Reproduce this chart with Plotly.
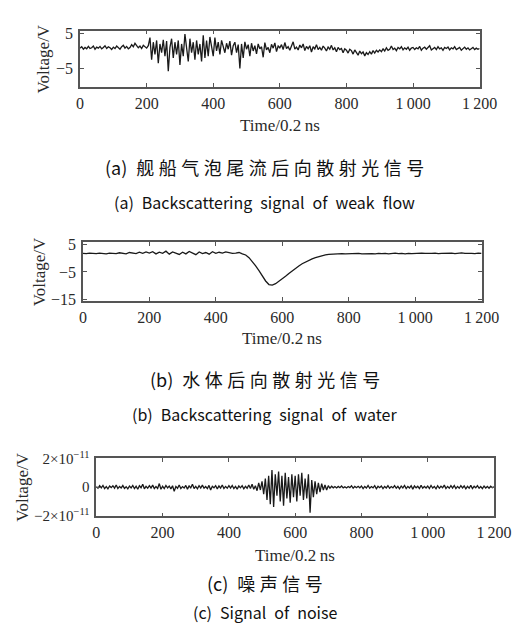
import plotly.graph_objects as go

W, H = 527, 638

# ---------------- data ----------------
# (a) backscattering signal of weak flow, x step 5 (Time/0.2 ns), voltage in V
time_a = list(range(0, 1201, 5))
volt_a = [
    0.8, 1.2, 0.5, 1.0, 0.6, 1.3, 0.7, 0.9, 1.4, 0.5, 1.1, 0.8, 1.3, 0.6, 1.0, 1.5, 0.7, 1.2, 0.9, 0.4,
    1.1, 0.7, 1.4, 0.9, 0.5, 1.2, 1.6, 0.8, 1.3, 0.6, 1.0, 1.8, 1.2, 2.2, 1.5, 0.9, 1.4, 0.7, 1.6, 1.1,
    0.8, 1.5, 3.8, -2.5, 2.5, -1.0, 3.0, -3.5, 2.0, -0.5, 3.2, -1.5, 2.8, -5.8, 1.0, 3.5, -2.0, 2.5, -1.0, 3.0,
    -4.0, 2.0, -1.5, 4.8, 0.5, -3.0, 3.5, -0.5, 2.5, -2.5, 3.0, -1.0, 2.0, -3.0, 4.5, -2.0, 3.0, -1.5, 4.0, 1.0,
    -1.5, 3.8, 0.0, 2.5, -1.0, 3.0, 1.0, -0.5, 2.2, 0.5, 2.8, -1.2, 1.5, 2.5, -0.5, 1.8, -5.0, 2.0, -2.0, 2.6,
    0.5, 1.8, -1.5, 2.2, 0.0, 1.5, -0.8, 2.0, 0.6, 1.2, -1.8, 2.4, 0.3, 1.0, -0.5, 1.9, 0.8, 2.3, -0.2, 1.4,
    0.9, 1.8, 0.4, 2.4, 0.7, 1.2, 0.2, 1.6, 2.6, 0.5, 1.1, 0.3, 1.7, 0.9, 2.0, 0.1, 1.3, 0.6, 1.5, -0.3,
    1.2, 0.6, 1.8, 0.4, 1.0, 0.2, 1.4, 0.8, 0.0, 1.1, 0.5, 1.6, 0.3, 0.9, -0.2, 1.0, 0.4, 0.7, -0.5, 0.6,
    0.2, -0.6, 0.5, 0.1, -0.9, 0.3, -0.4, -1.2, 0.0, -0.8, -0.3, -1.4, -0.5, -1.0, -0.2, -0.9, 0.1, -0.6, 0.2, -0.3,
    0.3, -0.2, 0.6, 0.0, 0.9, 0.2, 0.5, 1.4, 0.4, 0.8, 0.1, 1.0, 0.6, 1.2, 0.3, 0.9, 0.5, 1.1, 0.2, 0.8,
    1.0, 0.4, 0.9, 0.6, 1.3, 0.2, 0.8, 1.1, 0.5, 0.9, 1.5, 0.3, 0.7, 1.0, 0.4, 1.2, 0.6, 0.9, 0.2, 1.0,
    0.7, 1.1, 0.3, 0.9, 0.6, 1.2, 0.4, 0.8, 1.0, 0.2, 0.7, 1.1, 0.5, 0.9, 0.3, 0.6, 1.0, 0.4, 0.8, 0.5,
    0.7,
]

# (b) backscattering signal of water, x step 10, voltage in V
time_b = list(range(0, 1201, 10))
volt_b = [
    1.8, 1.7, 1.9, 1.8, 1.7, 1.9, 1.8, 1.6, 1.9, 1.8,
    1.7, 2.0, 1.8, 1.6, 2.1, 1.9, 1.7, 2.2, 1.8, 2.3,
    1.9, 2.4, 1.6, 2.2, 1.8, 2.6, 1.5, 2.3, 1.9, 1.4,
    2.2, 1.6, 2.5, 1.8, 1.3, 2.3, 1.7, 2.1, 1.5, 2.4,
    1.8, 2.2, 1.9, 2.3, 2.0, 1.8, 1.9, 2.1, 1.6, 1.2,
    0.2, -1.2, -2.8, -4.5, -6.5, -8.3, -9.6, -9.8, -9.3, -8.5,
    -7.6, -6.6, -5.6, -4.6, -3.6, -2.8, -2.0, -1.3, -0.7, -0.2,
    0.2, 0.6, 0.9, 1.2, 1.4, 1.5, 1.6, 1.6, 1.7, 1.6,
    1.7, 1.6, 1.7, 1.8, 1.6, 1.7, 1.8, 1.7, 1.6, 1.8,
    1.7, 1.8, 1.6, 1.7, 1.9, 1.7, 1.8, 1.6, 1.8, 1.7,
    1.8, 1.7, 1.9, 1.8, 1.7, 1.8, 1.9, 1.7, 1.8, 1.9,
    1.8, 1.9, 1.7, 1.8, 2.0, 1.8, 1.9, 1.8, 1.7, 1.9,
    1.8,
]

# (c) noise signal, x step 5, voltage in units of 1e-11 V
time_c = list(range(0, 1201, 5))
volt_c = [
    0.05, -0.08, 0.1, -0.05, 0.12, -0.1, 0.04, -0.12, 0.08, -0.03, 0.1, -0.07, 0.15, -0.1, 0.05, -0.06, 0.11, -0.09, 0.03, -0.12,
    0.08, -0.05, 0.12, -0.1, 0.06, -0.15, 0.1, -0.04, 0.2, -0.12, 0.05, -0.08, 0.1, -0.06, 0.14, -0.1, 0.04, -0.09, 0.25, -0.15,
    0.06, -0.1, 0.12, -0.05, 0.08, -0.12, 0.1, -0.3, 0.05, -0.08, 0.15, -0.1, 0.04, -0.06, 0.12, -0.14, 0.08, -0.05, 0.2, -0.1,
    0.05, -0.12, 0.1, -0.06, 0.14, -0.08, 0.04, -0.1, 0.12, -0.2, 0.06, -0.05, 0.1, -0.12, 0.08, -0.06, 0.15, -0.1, 0.05, -0.08,
    0.1, -0.06, 0.12, -0.1, 0.05, -0.14, 0.08, -0.05, 0.1, -0.12, 0.06, -0.08, 0.15, -0.1, 0.2, -0.15, 0.1, -0.25, 0.3, -0.2,
    0.4, -0.5, 0.6, -0.9, 0.8, -1.2, 1.2, -1.4, 0.9, -0.6, 1.1, -1.0, 0.8, -1.3, 1.0, -0.8, 0.7, -1.1, 0.9, -0.7,
    0.8, -1.0, 0.9, -0.6, 1.0, -0.9, 0.6, -0.8, 0.9, -1.8, 0.5, -0.7, 0.4, -0.5, 0.3, -0.35, 0.25, -0.2, 0.15, -0.2,
    0.1, -0.08, 0.06, -0.05, 0.04, -0.06, 0.05, -0.04, 0.08, -0.05, 0.03, -0.06, 0.04, -0.03, 0.1, -0.08, 0.05, -0.04, 0.06, -0.05,
    0.08, -0.1, 0.05, -0.06, 0.12, -0.08, 0.04, -0.05, 0.1, -0.12, 0.06, -0.04, 0.08, -0.1, 0.05, -0.06, 0.1, -0.08, 0.04, -0.05,
    0.1, -0.08, 0.06, -0.12, 0.08, -0.05, 0.12, -0.1, 0.05, -0.06, 0.1, -0.14, 0.08, -0.05, 0.06, -0.1, 0.12, -0.08, 0.05, -0.06,
    0.08, -0.1, 0.12, -0.06, 0.05, -0.12, 0.1, -0.08, 0.06, -0.05, 0.14, -0.1, 0.05, -0.08, 0.1, -0.06, 0.12, -0.1, 0.05, -0.08,
    0.1, -0.06, 0.08, -0.12, 0.05, -0.08, 0.12, -0.1, 0.06, -0.05, 0.1, -0.08, 0.04, -0.1, 0.08, -0.06, 0.05, -0.08, 0.06, -0.04,
    0.02,
]

x_tickvals = [0, 200, 400, 600, 800, 1000, 1200]
x_ticktext = ["0", "200", "400", "600", "800", "1\u2009000", "1\u2009200"]
ya_tickvals = [-5, 5]
ya_ticktext = ["\u22125", "5"]
yb_tickvals = [-15, -5, 5]
yb_ticktext = ["\u221215", "\u22125", "5"]
yc_tickvals = [-2, 0, 2]
yc_ticktext = ["\u22122\u00d710<sup>\u221211</sup>", "0", "2\u00d710<sup>\u221211</sup>"]

x_title = "Time/0.2\u2009ns"
y_title = "Voltage/V"
captions_cn = ["(a) 舰船气泡尾流后向散射光信号", "(b) 水体后向散射光信号", "(c) 噪声信号"]
captions_en = ["(a) Backscattering signal of weak flow",
               "(b) Backscattering signal of water",
               "(c) Signal of noise"]


def spaced_cn(s):
    # visual letter-spacing between CJK characters (four-per-em spaces)
    head, body = s.split(" ", 1)
    return head + "\u2002" + "\u2005".join(body)


def spaced_en(s):
    return "\u2002".join(s.split(" "))


# ---------------- layout geometry (px) ----------------
panels = [
    dict(x0=71, x1=488, y0=14, y1=72, yr=[-10.3, 5.8], tv=ya_tickvals, tt=ya_ticktext, ytf=16,
         lab_y=111, cn_y=154, en_y=190, ytitle_x=33),
    dict(x0=74, x1=490, y0=231, y1=292, yr=[-15.7, 6.0], tv=yb_tickvals, tt=yb_ticktext, ytf=16,
         lab_y=330, cn_y=372, en_y=408, ytitle_x=29),
    dict(x0=88, x1=503, y0=453, y1=513, yr=[-2.05, 2.05], tv=yc_tickvals, tt=yc_ticktext, ytf=15,
         lab_y=553, cn_y=581, en_y=611, ytitle_x=11),
]
series = [(time_a, volt_a), (time_b, volt_b), (time_c, volt_c)]

SERIF = "Liberation Serif, Times New Roman, serif"
SANS = "Noto Sans CJK SC, Noto Sans, sans-serif"
AX = "#555555"
TXT = "#2a2a2a"

fig = go.Figure()
annotations = []
for i, (p, (xs, ys)) in enumerate(zip(panels, series)):
    n = "" if i == 0 else str(i + 1)
    fig.add_trace(go.Scatter(x=xs, y=ys, mode="lines",
                             line=dict(color="#1a1a1a", width=1.3),
                             xaxis="x" + n, yaxis="y" + n, showlegend=False))
    common = dict(showline=True, linecolor=AX, linewidth=1.6, mirror="ticks",
                  ticks="inside", ticklen=4, tickcolor=AX, tickwidth=1,
                  showgrid=False, zeroline=False)
    fig.update_layout(**{
        "xaxis" + n: dict(domain=[p["x0"] / W, p["x1"] / W], range=[0, 1200],
                          anchor="y" + n, tickmode="array", tickvals=x_tickvals,
                          ticktext=x_ticktext, ticklabelstandoff=1,
                          tickfont=dict(family=SERIF, size=16, color=TXT), **common),
        "yaxis" + n: dict(domain=[1 - p["y1"] / H, 1 - p["y0"] / H], range=p["yr"],
                          anchor="x" + n, tickmode="array", tickvals=p["tv"],
                          ticktext=p["tt"], ticklabelstandoff=2,
                          tickfont=dict(family=SERIF, size=p["ytf"], color=TXT), **common),
    })
    xc = (p["x0"] + p["x1"]) / 2 / W
    annotations.append(dict(text=x_title, x=xc, y=1 - p["lab_y"] / H, xref="paper", yref="paper",
                            showarrow=False, xanchor="center", yanchor="middle",
                            font=dict(family=SERIF, size=17, color=TXT)))
    annotations.append(dict(text=y_title, x=p["ytitle_x"] / W,
                            y=1 - (p["y0"] + p["y1"]) / 2 / H, xref="paper", yref="paper",
                            showarrow=False, xanchor="center", yanchor="middle", textangle=-90,
                            font=dict(family=SERIF, size=17, color=TXT)))
    annotations.append(dict(text=spaced_cn(captions_cn[i]), x=0.5, y=1 - p["cn_y"] / H,
                            xref="paper", yref="paper",
                            showarrow=False, xanchor="center", yanchor="middle",
                            font=dict(family=SANS, size=18, color="#111111")))
    annotations.append(dict(text=spaced_en(captions_en[i]), x=0.5, y=1 - p["en_y"] / H,
                            xref="paper", yref="paper",
                            showarrow=False, xanchor="center", yanchor="middle",
                            font=dict(family=SANS, size=16, color="#111111")))

fig.update_layout(width=W, height=H, margin=dict(l=0, r=0, t=0, b=0),
                  paper_bgcolor="white", plot_bgcolor="white", annotations=annotations)

fig.write_html("out.html")
